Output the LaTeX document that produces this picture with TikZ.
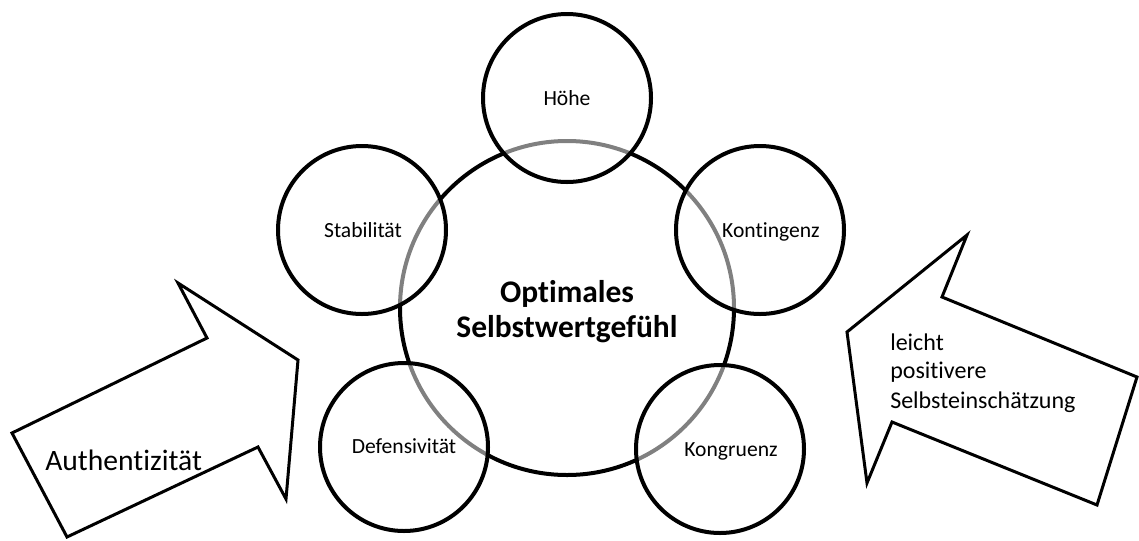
\documentclass[tikz,border=0pt]{standalone}
\usepackage{fontspec}
\setmainfont[Ligatures=NoCommon]{Carlito}
\begin{document}
\begin{tikzpicture}[x=0.75pt,y=-0.75pt,
  bigring/.style={circle,draw=black,line width=3pt,fill=white,minimum size=250.5pt,inner sep=0pt},
  ring/.style={circle,draw=black,line width=3pt,fill=white,fill opacity=0.5,draw opacity=1,minimum size=126pt,inner sep=0pt},
  lbl/.style={anchor=base,font=\fontsize{16.2pt}{19pt}\selectfont,inner sep=0pt},
  blockarrow/.style={draw=black,line width=2.25pt,line join=miter,fill=white},
  arrowtext/.style={anchor=base west,inner sep=0pt}]
\useasboundingbox (0,0) rectangle (1139,540);
% central circle
\node[bigring] (main) at (567,308) {};
% satellites
\node[ring] (hoehe) at (567,98) {};
\node[ring] (stab) at (362,230) {};
\node[ring] (kont) at (760,230) {};
\node[ring] (def) at (404,447) {};
\node[ring] (kongr) at (720,449) {};
% labels
\node[lbl] (thoehe) at (567,105) {Höhe};
\node[lbl] (tstab) at (363,237) {Stabilität};
\node[lbl] (tkont) at (771,237) {Kontingenz};
\node[lbl] (tdef) at (404,453) {Defensivität};
\node[lbl] (tkongr) at (731,456) {Kongruenz};
\node[anchor=base,inner sep=0pt,font=\fontsize{23.6pt}{27pt}\selectfont\bfseries] (t1) at (567,302) {Optimales};
\node[anchor=base,inner sep=0pt,font=\fontsize{23.6pt}{27pt}\selectfont\bfseries] (t2) at (567,337) {Selbstwertgefühl};
% left block arrow
\draw[blockarrow] (12,433) -- (207,338) -- (178,283) -- (298,360) -- (286,499) -- (258,447) -- (67,537) -- cycle;
\node[arrowtext,font=\fontsize{22.2pt}{26pt}\selectfont] (auth) at (45,470) {Authentizität};
% right block arrow
\draw[blockarrow] (847,332) -- (967,235) -- (942,297) -- (1137,377) -- (1097,505) -- (892,422) -- (867,483) -- cycle;
\node[arrowtext,font=\fontsize{18pt}{21pt}\selectfont] (r1) at (890,350) {leicht};
\node[arrowtext,font=\fontsize{18pt}{21pt}\selectfont] (r2) at (890,378) {positivere};
\node[arrowtext,font=\fontsize{18pt}{21pt}\selectfont] (r3) at (890,408) {Selbsteinschätzung};
\end{tikzpicture}
\end{document}
